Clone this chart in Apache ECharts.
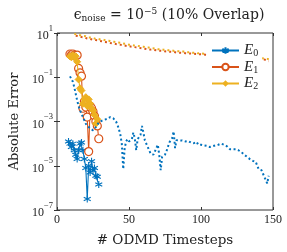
<!DOCTYPE html>
<html>
<head>
<meta charset="utf-8">
<script src="https://cdn.jsdelivr.net/npm/echarts@6/dist/echarts.min.js"></script>
<style>html,body{margin:0;padding:0;background:#fff}#c{width:287px;height:252px}</style>
</head>
<body>
<div id="c"></div>
<script>
// ---- data (errors stored as log10 exponents) ----
const xTicks = [0, 50, 100, 150];
const yTickExps = [-7, -5, -3, -1, 1];

const e0X = [8,9,10,11,12,13,14,15,16,17,18,19,20,21,22,23,24,25,26,27,28,29];
const e0Log = [-3.9,-4.0,-4.15,-4.0,-4.3,-4.5,-4.7,-4.3,-4.0,-3.95,-4.3,-4.7,-5.1,-6.5,-5.0,-5.3,-4.8,-5.2,-5.1,-5.45,-5.5,-5.85];

const e1X = [9,10,11,12,13,14,15,16,17,18,19,20,21,22,23,24,25,26,27,28,29];
const e1Log = [0.05,0.0,0.05,0.0,-0.05,0.0,-0.6,-0.8,-0.95,-2.4,-2.1,-2.35,-2.8,-4.36,-2.3,-2.4,-2.55,-2.75,-3.0,-3.2,-3.78];

const e2X = [9,10,11,12,13,14,15,16,17,18,19,20,21,22,23,24,25,26,27,28];
const e2Log = [-0.05,-0.1,0.0,-0.1,-0.05,-0.3,-1.1,-1.5,-1.6,-2.2,-2.0,-1.9,-2.3,-2.0,-2.2,-2.4,-2.5,-2.7,-3.1,-2.9];

// dotted reference curves
const d0X = [];
for (let i = 9; i <= 150; i++) d0X.push(i);
const d0Log = [
 -0.96,-1.05,-1.2,-1.45,-1.75,-2.05,-2.3,-2.5,-2.65,-2.8,-2.95,-3.1,-3.2,-3.25,-3.3,-3.35,-3.4,-3.35,-3.25,-3.15,-3.05,
 -3.0,-2.97,-2.95,-2.92,-2.9,-2.88,-2.85,-2.8,-2.82,-2.85,-2.9,-3.0,-3.15,-3.35,-3.6,-4.0,-5.15,-4.2,-3.9,-3.8,
 -3.9,-3.85,-3.8,-3.5,-3.75,-4.3,-3.8,-3.7,-3.6,-3.2,-3.5,-3.85,-4.0,-4.15,-4.3,-4.45,-4.45,-4.5,-4.35,-4.2,
 -4.05,-4.5,-5.2,-4.6,-4.55,-4.5,-4.35,-4.15,-3.95,-3.85,-3.75,-3.45,-4.2,-3.85,-3.85,-3.85,-3.87,-3.86,-3.88,-3.9,
 -3.9,-3.88,-3.92,-3.95,-3.95,-3.98,-4.0,-3.92,-4.05,-4.0,-4.05,-4.02,-4.08,-4.05,-4.1,-4.08,-4.15,-4.2,-4.12,-4.1,
 -4.08,-4.1,-4.05,-4.02,-4.0,-4.05,-4.05,-4.08,-4.12,-4.18,-4.25,-4.27,-4.25,-4.27,-4.25,-4.22,-4.3,-4.36,-4.38,
 -4.42,-4.5,-4.55,-4.6,-4.67,-4.7,-4.76,-4.78,-4.8,-4.82,-4.9,-5.15,-5.2,-5.2,-5.35,-5.5,-5.5,-5.8,-5.45
];

const d2X = [12,14,16,18,20,22,24,26,28,30,32,34,36,38,40,42,44,46,48,50,52,54,56,58,60,62,64,66,68,70,72,74,76,78,80,82,84,86,88,90,92,94,96,98,100,102,104,106,108,110,112,114,116,118,120,122,124,126,128,130,132,134,136,138,140,142,144,146,148];
const d2Log = [0.96,0.93,0.9,0.87,0.85,0.8,0.79,0.75,0.74,0.71,0.7,0.66,0.65,0.61,0.6,0.57,0.56,0.52,0.51,0.47,0.46,0.43,0.42,0.39,0.38,0.35,0.34,0.31,0.3,0.27,0.27,0.24,0.24,0.21,0.21,0.18,0.18,0.16,0.16,0.13,0.13,0.11,0.11,0.08,0.08,0.06,0.05,0.04,0.03,0.02,0.01,0.0,-0.01,-0.02,-0.03,-0.04,-0.05,-0.06,-0.07,-0.08,-0.09,-0.1,-0.11,-0.12,-0.13,-0.14,-0.15,-0.17,-0.2];
const d1X = [13,15,17,19,21,23,25,27,29,31,33,35,37,39,41,43,45,47,49,51,53,55,57,59,61,63,65,67,69,71,73,75,77,79,81,83,85,87,89,91,93,95,97,99,101,103,105,107,109,111,113,115,117,119,121,123,125,127,129,131,133,135,137,139,141,143,145,147];
const d1Log = [0.88,0.86,0.82,0.8,0.75,0.73,0.7,0.68,0.65,0.63,0.6,0.58,0.55,0.53,0.5,0.48,0.46,0.43,0.41,0.39,0.37,0.35,0.33,0.31,0.29,0.27,0.25,0.24,0.22,0.2,0.19,0.17,0.16,0.15,0.14,0.12,0.11,0.1,0.09,0.08,0.07,0.06,0.05,0.04,0.03,0.02,0.01,0.0,-0.01,-0.02,-0.03,-0.04,-0.05,-0.06,-0.07,-0.08,-0.09,-0.1,-0.11,-0.12,-0.13,-0.14,-0.15,-0.16,-0.17,-0.18,-0.22,-0.28];

// ---- build ----
const pair = (xs, ls) => xs.map((x, i) => [x, Math.pow(10, ls[i])]);
const BLUE = '#0072BD', ORANGE = '#D95319', YELLOW = '#EDB120';
const SERIF = '"Liberation Serif","DejaVu Serif",serif';
const WSERIF = '"DejaVu Serif","Liberation Serif",serif';
const ASTER = 'path://M5,0L5,10M0.67,2.5L9.33,7.5M0.67,7.5L9.33,2.5';

const chart = echarts.init(document.getElementById('c'), null, {renderer: 'canvas'});
const labRich = {
  b: {fontFamily: SERIF, fontSize: 12, color: '#222', verticalAlign: 'bottom', lineHeight: 14},
  s: {fontFamily: SERIF, fontSize: 8.5, color: '#222', verticalAlign: 'top', lineHeight: 18, padding: [0,0,6,0]}
};
const legRich = {
  e: {fontFamily: SERIF, fontStyle: 'italic', fontSize: 15, color: '#222'},
  s: {fontFamily: SERIF, fontSize: 10, color: '#222', padding: [6,0,0,0]}
};
chart.setOption({
  animation: false,
  backgroundColor: '#fff',
  title: {
    text: '{e|ϵ}{sub|noise}{n| = 10}{sup|−5}{n| (10% Overlap)}',
    left: 164, top: 2, textAlign: 'center',
    textStyle: {
      fontWeight: 'normal',
      rich: {
        e: {fontFamily: WSERIF, fontSize: 14, color: '#222', fontWeight: 'normal'},
        sub: {fontFamily: WSERIF, fontSize: 9, color: '#222', padding: [7,0,0,0], fontWeight: 'normal'},
        n: {fontFamily: WSERIF, fontSize: 14, color: '#222', fontWeight: 'normal'},
        sup: {fontFamily: WSERIF, fontSize: 9, color: '#222', padding: [0,0,8,0], fontWeight: 'normal'}
      }
    }
  },
  grid: {left: 56, right: 14, top: 33, bottom: 40, show: true, borderColor: '#333', borderWidth: 1, backgroundColor: 'transparent'},
  legend: {
    orient: 'vertical', left: 207, top: 41,
    data: ['E0', 'E1', 'E2'],
    itemWidth: 27, itemHeight: 8, itemGap: 1,
    backgroundColor: '#fff', padding: [2, 4, 2, 4],
    formatter: n => '{e|E}{s|' + n.slice(1) + '}',
    textStyle: {rich: legRich}
  },
  xAxis: [{
    type: 'value', min: 0, max: 150, interval: 50,
    name: '# ODMD Timesteps', nameLocation: 'middle', nameGap: 23,
    nameTextStyle: {fontFamily: WSERIF, fontSize: 13.5, color: '#222'},
    axisLine: {show: false},
    axisTick: {show: true, inside: true, length: 3, lineStyle: {color: '#333'}},
    axisLabel: {fontFamily: SERIF, fontSize: 12, color: '#222', margin: 4,
      formatter: v => xTicks.includes(v) ? String(v) : ''},
    splitLine: {show: false}
  }, {
    type: 'value', min: 0, max: 150, interval: 50, position: 'top',
    axisLine: {show: false}, axisLabel: {show: false},
    axisTick: {show: true, inside: true, length: 3, lineStyle: {color: '#333'}},
    splitLine: {show: false}
  }],
  yAxis: [{
    type: 'log', logBase: 10, min: 1e-7, max: 10, interval: 2,
    name: 'Absolute Error', nameLocation: 'middle', nameGap: 36,
    nameTextStyle: {fontFamily: WSERIF, fontSize: 13, color: '#222'},
    axisLine: {show: false},
    axisTick: {show: true, inside: true, length: 3, lineStyle: {color: '#333'}},
    axisLabel: {margin: 4, rich: labRich,
      formatter: v => { const e = Math.round(Math.log10(v)); return yTickExps.includes(e) ? '{b|10}{s|' + String(e).replace('-', '−') + '}' : ''; }},
    splitLine: {show: false}
  }, {
    type: 'log', logBase: 10, min: 1e-7, max: 10, interval: 2, position: 'right',
    axisLine: {show: false}, axisLabel: {show: false},
    axisTick: {show: true, inside: true, length: 3, lineStyle: {color: '#333'}},
    splitLine: {show: false}
  }],
  series: [
    {name: 'E0', type: 'line', data: pair(e0X, e0Log), color: BLUE,
     symbol: ASTER, symbolSize: 7, showAllSymbol: true,
     itemStyle: {color: 'none', borderColor: BLUE, borderWidth: 1.1},
     lineStyle: {width: 1.1, color: BLUE}, z: 3},
    {name: 'E1', type: 'line', data: pair(e1X, e1Log), color: ORANGE,
     symbol: 'circle', symbolSize: 8, showAllSymbol: true,
     itemStyle: {color: '#fff', borderColor: ORANGE, borderWidth: 1.2},
     lineStyle: {width: 1.1, color: ORANGE}, z: 4},
    {name: 'E2', type: 'line', data: pair(e2X, e2Log), color: YELLOW,
     symbol: 'diamond', symbolSize: 7, showAllSymbol: true,
     itemStyle: {color: YELLOW, borderColor: YELLOW},
     lineStyle: {width: 1.1, color: YELLOW}, z: 5},
    {name: 'E0 ref', type: 'line', data: pair(d0X, d0Log), showSymbol: false,
     lineStyle: {width: 2, color: BLUE, type: [2, 2.5]}, z: 6},
    {name: 'E1 ref', type: 'line', data: pair(d1X, d1Log), showSymbol: false,
     lineStyle: {width: 2, color: ORANGE, type: [2, 3]}, z: 2},
    {name: 'E2 ref', type: 'line', data: pair(d2X, d2Log), showSymbol: false,
     lineStyle: {width: 2, color: YELLOW, type: [2, 3]}, z: 2.5}
  ]
});
</script>
</body>
</html>
